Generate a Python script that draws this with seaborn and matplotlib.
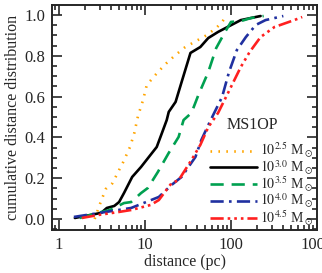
import numpy as np
import pandas as pd
import matplotlib
matplotlib.use("Agg")
import matplotlib.pyplot as plt
import seaborn as sns
from matplotlib.ticker import LogLocator, MultipleLocator, NullFormatter, FormatStrFormatter

# data (distance in pc, cumulative fraction)
d25 = [2.6, 3.0, 3.5, 4.2, 5.0, 5.6, 6.7, 7.5, 8.3, 9.5, 10.5, 14.1, 17.9, 22.1, 28.8, 37.6, 51.6, 67.3, 78.8, 90]
c25 = [0.0, 0.074, 0.147, 0.176, 0.24, 0.28, 0.353, 0.42, 0.505, 0.583, 0.657, 0.72, 0.765, 0.80, 0.84, 0.868, 0.90, 0.936, 0.966, 1.0]

d30 = [1.53, 3.1, 3.6, 4.4, 5.0, 5.7, 7.1, 9.0, 11.1, 13.7, 15.7, 17.9, 18.9, 22.7, 26.6, 33.8, 44, 54.4, 70.8, 100, 130, 221]
c30 = [0.005, 0.03, 0.054, 0.064, 0.083, 0.127, 0.206, 0.255, 0.304, 0.353, 0.42, 0.485, 0.525, 0.574, 0.67, 0.814, 0.843, 0.887, 0.917, 0.95, 0.975, 0.995]

d35 = [1.74, 3.1, 3.9, 5.7, 6.9, 9.0, 10.8, 14.1, 18.9, 24.6, 28.1, 34.7, 41.8, 54.4, 67.3, 85.3, 100, 130, 170, 240]
c35 = [0.005, 0.034, 0.044, 0.078, 0.083, 0.127, 0.152, 0.23, 0.324, 0.402, 0.485, 0.52, 0.608, 0.72, 0.838, 0.917, 0.966, 0.97, 0.985, 0.995]

d40 = [1.49, 4.9, 6.9, 10.3, 14.5, 20.4, 26.6, 38.6, 45.2, 54.4, 63.8, 78.8, 94.8, 117, 149, 194, 252, 406]
c40 = [0.01, 0.044, 0.054, 0.083, 0.108, 0.167, 0.206, 0.304, 0.387, 0.46, 0.52, 0.598, 0.72, 0.828, 0.892, 0.951, 0.975, 0.995]

d45 = [1.84, 2.9, 4.9, 6.9, 11.7, 14.5, 20.4, 24.6, 34.7, 44, 54.4, 70.8, 92.4, 130, 165, 221, 320, 544, 673]
c45 = [0.005, 0.02, 0.034, 0.044, 0.069, 0.093, 0.176, 0.19, 0.289, 0.363, 0.45, 0.52, 0.618, 0.745, 0.819, 0.892, 0.941, 0.975, 0.99]

labels = [r"$10^{2.5}$ M$_\odot$", r"$10^{3.0}$ M$_\odot$", r"$10^{3.5}$ M$_\odot$",
          r"$10^{4.0}$ M$_\odot$", r"$10^{4.5}$ M$_\odot$"]
xticks = [1, 10, 100, 1000]
xticklabels = ["1", "10", "100", "1000"]

sns.set_style("ticks")
plt.rcParams['font.family'] = ['Liberation Serif', 'DejaVu Serif']
plt.rcParams['mathtext.fontset'] = 'stix'
plt.rcParams['xtick.direction'] = 'in'
plt.rcParams['ytick.direction'] = 'in'

fig = plt.figure(figsize=(3.22, 2.73), dpi=100)
ax = fig.add_axes([52/322, 43/273, 265/322, 225/273])

series = [(d25, c25, "#FFA500", (0, (0.6, 2.4))),
          (d30, c30, "#000000", None),
          (d35, c35, "#00A050", (0, (5, 3))),
          (d40, c40, "#2030A0", (0, (5, 2, 1, 2))),
          (d45, c45, "#FF2020", (0, (5, 1.5, 1, 1.5, 1, 1.5, 1, 1.5)))]

for (d, c, col, dash), lab in zip(series, labels):
    df = pd.DataFrame({"d": d, "c": c})
    sns.lineplot(data=df, x="d", y="c", ax=ax, color=col, lw=1.9, sort=False,
                 estimator=None, label=lab)
    ln = ax.get_lines()[-1]
    if dash is not None:
        ln.set_linestyle(dash)

ax.set_xscale("log")
ax.set_xlim(0.83, 1000)
ax.set_ylim(-0.054, 1.049)
ax.set_xticks(xticks)
ax.set_xticklabels(xticklabels)
ax.xaxis.set_minor_locator(LogLocator(base=10, subs=np.arange(2, 10)))
ax.xaxis.set_minor_formatter(NullFormatter())
ax.yaxis.set_major_locator(MultipleLocator(0.2))
ax.yaxis.set_minor_locator(MultipleLocator(0.05))
ax.yaxis.set_major_formatter(FormatStrFormatter("%.1f"))
ax.tick_params(which="both", direction="in", top=True, right=True, labelsize=12, width=1.2)
ax.tick_params(which="major", length=7, pad=5)
ax.tick_params(which="minor", length=3.5)
for s in ax.spines.values():
    s.set_linewidth(1.4)
    s.set_visible(True)

ax.set_xlabel("distance (pc)", fontsize=11.5, labelpad=1)
ax.set_ylabel("cumulative distance distribution", fontsize=11.5, labelpad=2)

fig.text(252/322, 1 - 125/273, "MS1OP", fontsize=11.5, ha="center", va="center")

leg = ax.legend(loc="upper left", bbox_to_anchor=(210/322, (273 - 141)/273),
                bbox_transform=fig.transFigure, frameon=False, fontsize=10,
                handlelength=3.4, handletextpad=0.2, labelspacing=-0.15,
                borderaxespad=0, borderpad=0)

fig.savefig("out.png", dpi=100)
